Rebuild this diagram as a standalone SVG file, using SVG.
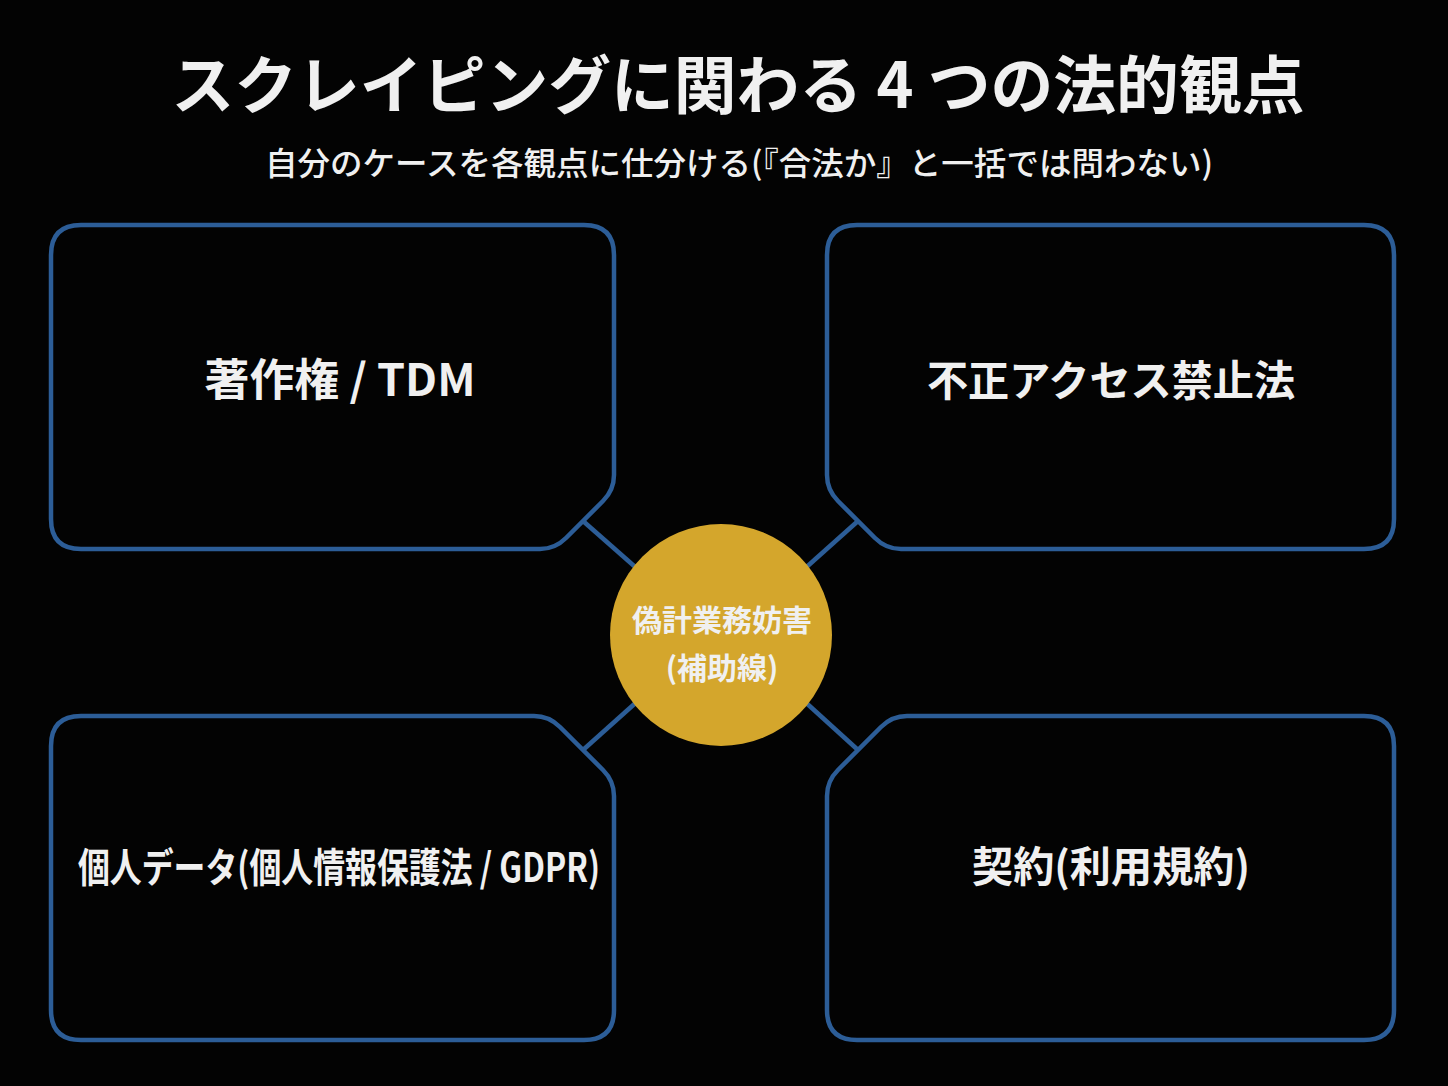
<svg xmlns="http://www.w3.org/2000/svg" width="1448" height="1086" viewBox="0 0 1448 1086">
<style>
.bg{fill:#030303}
.box{fill:#030303;stroke:#2c5d97;stroke-width:4.5;stroke-linejoin:round}
.conn{stroke:#2c5d97;stroke-width:4.5;fill:none}
.t{font-family:"Noto Sans CJK JP","Noto Sans",sans-serif;fill:#f0f0f0;text-anchor:middle}
.title{font-size:63px;font-weight:700}
.sub{font-size:32px;font-weight:500}
.lbl{font-size:42px;font-weight:700}
.cl{font-size:30px;font-weight:700}
</style>
<rect class="bg" x="0" y="0" width="1448" height="1086"/>
<text class="t title" x="738" y="108" textLength="1133" lengthAdjust="spacingAndGlyphs">スクレイピングに関わる 4 つの法的観点</text>
<text class="t sub" x="739" y="175" textLength="948" lengthAdjust="spacingAndGlyphs">自分のケースを各観点に仕分ける(『合法か』と一括では問わない)</text>
<g id="connectors">
<line class="conn" x1="583" y1="521" x2="650" y2="580"/>
<line class="conn" x1="858" y1="521" x2="792" y2="580"/>
<line class="conn" x1="583" y1="750" x2="650" y2="690"/>
<line class="conn" x1="858" y1="750" x2="792" y2="690"/>
</g>
<g id="node-copyright">
<path class="box" d="M 81,225 H 584 Q 614,225 614,255 V 475 Q 614,490 603,501 L 566,538 Q 555,549 540,549 H 81 Q 51,549 51,519 V 255 Q 51,225 81,225 Z"/>
<text class="t lbl" x="340" y="396" style="font-size:44px" textLength="271" lengthAdjust="spacingAndGlyphs">著作権 / TDM</text>
</g>
<g id="node-unauthorized">
<path class="box" d="M 857,225 H 1364 Q 1394,225 1394,255 V 519 Q 1394,549 1364,549 H 901 Q 886,549 875,538 L 838,501 Q 827,490 827,475 V 255 Q 827,225 857,225 Z"/>
<text class="t lbl" x="1111" y="396" textLength="368" lengthAdjust="spacingAndGlyphs">不正アクセス禁止法</text>
</g>
<g id="node-personal">
<path class="box" d="M 81,716 H 534 Q 549,716 560,727 L 603,770 Q 614,781 614,796 V 1010 Q 614,1040 584,1040 H 81 Q 51,1040 51,1010 V 746 Q 51,716 81,716 Z"/>
<text class="t lbl" x="339" y="882" style="font-size:40px" textLength="522" lengthAdjust="spacingAndGlyphs">個人データ(個人情報保護法 / GDPR)</text>
</g>
<g id="node-contract">
<path class="box" d="M 907,716 H 1364 Q 1394,716 1394,746 V 1010 Q 1394,1040 1364,1040 H 857 Q 827,1040 827,1010 V 796 Q 827,781 838,770 L 881,727 Q 892,716 907,716 Z"/>
<text class="t lbl" x="1111" y="882" textLength="278" lengthAdjust="spacingAndGlyphs">契約(利用規約)</text>
</g>
<g id="node-center">
<circle cx="721" cy="635" r="111" fill="#d4a62c"/>
<text class="t cl" x="722" y="631">偽計業務妨害</text>
<text class="t cl" x="722" y="679">(補助線)</text>
</g>
</svg>
